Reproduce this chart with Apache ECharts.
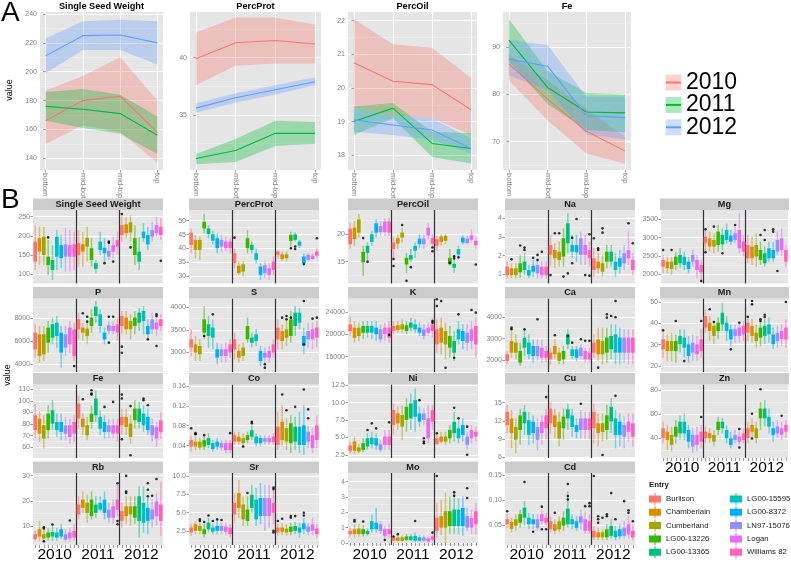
<!DOCTYPE html>
<html><head><meta charset="utf-8">
<script src="https://cdn.jsdelivr.net/npm/echarts@6/dist/echarts.min.js"></script>
<style>html,body{margin:0;padding:0;background:#fff}#c{width:791px;height:563px}</style>
</head><body><div id="c"></div>
<script>
// ---------- categories ----------
const entries = ['Burlison','Chamberlain','Cumberland','LG00-13226','LG00-13365','LG00-15595','LG00-8372','LN97-15076','Logan','Williams 82'];
const entryColors = ['#F8766D','#D89000','#A3A500','#39B600','#00BF7D','#00BFC4','#00B0F6','#9590FF','#E76BF3','#FF62BC'];
const yearLabels = ['2010','2011','2012'];
const yearColors = ['#F8766D','#00BA38','#619CFF'];
const positions = ['bottom','mid-bot','mid-top','top'];

// ---------- panel A: mean and ribbon per year (rows 2010, 2011, 2012) ----------
const sswMean = [[166,180,183,158],[176,174,171,156],[211,225,225.5,220]];
const sswLow  = [[150,163,158,137],[166,161,157,143],[199,215,215,205]];
const sswHigh = [[187,197,210,180],[186,188,184,169],[223,235,236,235]];
const protMean = [[39.9,41.3,41.5,41.2],[31.2,31.9,33.4,33.4],[35.6,36.5,37.2,37.9]];
const protLow  = [[37.6,39.3,39.5,39.5],[30.7,30.9,32.3,32.5],[35.2,36.1,36.8,37.6]];
const protHigh = [[42.2,43.5,43.5,42.9],[31.6,32.9,34.5,34.4],[36.0,36.9,37.6,38.3]];
const oilMean = [[20.75,20.2,20.1,19.35],[19.0,19.4,18.35,18.2],[19.05,18.9,18.75,18.2]];
const oilLow  = [[19.4,19.2,19.1,18.6],[18.6,19.1,17.95,17.75],[18.7,18.6,18.45,18.05]];
const oilHigh = [[22.05,21.3,21.2,20.3],[19.45,19.55,18.7,18.65],[19.4,19.2,19.1,18.5]];
const feMean = [[86.5,79,72.2,68],[91.5,81.5,76.3,76.1],[87.5,86,75.5,75.1]];
const feLow  = [[83,74.5,67.5,65.3],[87,78,72.5,72],[84,81,71.5,70.5]];
const feHigh = [[88.5,83,77,71],[96,85,80.3,80],[91.5,90.5,79.5,79.5]];
const aTickSSW = [140,160,180,200,220,240], aMinorSSW = [150,170,190,210,230];
const aTickProt = [35,40], aMinorProt = [32.5,37.5,42.5];
const aTickOil = [18,19,20,21,22], aMinorOil = [18.5,19.5,20.5,21.5];
const aTickFe = [70,80,90], aMinorFe = [65,75,85,95];

// ---------- panel B: boxes [low whisker, Q1, Q3, high whisker]; slots 0-9 = 2010, 10-19 = 2011, 20-29 = 2012 (entry order) ----------
const boxSSW = [[111,133,185,228],[124,159,194,224],[124,150,198,224],[98,124,146,189],[85,111,137,176],[111,146,198,215],[116,142,176,202],[107,146,178,220],[107,146,176,215],[111,146,178,211],
[120,149,181,215],[120,159,178,211],[133,172,195,224],[120,137,168,194],[103,114,129,137],[150,163,185,211],[133,155,169,194],[137,146,161,185],[142,159,176,198],[150,172,189,211],
[185,202,228,254],[194,207,230,250],[185,209,235,254],[124,150,194,228],[111,133,159,198],[185,194,211,233],[163,178,202,224],[185,198,215,237],[198,207,228,250],[189,202,224,246]];
const outSSW = [[3,196],[16,129],[17,185],[17,182],[18,133],[20,257],[22,170],[29,135]];

const boxProt = [[38.3,41.3,45.7,47.2],[36.5,39.5,43.1,44.9],[35.9,39.5,43.1,44.3],[45.4,47.2,49.6,52.4],[43.7,45.2,47.2,48.4],[41.3,42.8,45.1,46.3],[38.3,40.1,43.7,45.4],[38.9,40.7,43.1,44.9],[38.9,40.1,42.5,44.3],[38.3,40.1,42.5,43.7],
[32.9,34.7,38.3,40.1],[30.5,31.1,33.8,35.3],[29.9,31.7,34.3,35.3],[38.3,40.1,43.7,46.6],[38.3,39.5,41.3,42.5],[34.7,35.9,38.3,40.1],[28.7,30.5,33.5,34.7],[29.3,31.1,34,35.3],[28.7,30.5,32.9,34.7],[30.5,32.3,35.3,37.1],
[36.5,37.7,38.9,39.5],[35.3,36.2,37.9,38.9],[35.3,36.5,37.9,38.9],[40.7,42.7,44.9,46],[42.5,43.1,45.1,45.8],[40.1,41,42.5,43.1],[33.8,34.7,37.1,38.3],[35.3,35.9,37.7,38.3],[35.9,36.2,37.4,38.3],[36.5,37.4,38.9,40.1]];
const outProt = [[10,43.9],[23,40.1],[24,40.7],[24,39.8],[26,34.4],[29,43.7]];

const boxOil = [[17.3,18.2,21,22.1],[17.9,19.1,21.2,22.4],[19.4,20.3,22.7,23.7],[12.4,14.9,16.8,17.9],[15.1,16.6,17.9,18.5],[17.9,18.6,20,20.6],[19.4,20.3,22,22.7],[19.7,20.4,21.5,22.4],[19.7,20.4,22.3,22.9],[19.7,20.3,22.3,23],
[15.4,17.3,18.5,19.4],[17.3,18.3,19.3,20],[18.5,19.4,20.3,21.2],[13,14.5,15.7,16.6],[15,15.4,16.2,17.3],[15.7,17,17.9,18.5],[17.6,18.2,19.2,20],[17.3,18.2,19.2,20],[19.1,19.8,21.2,22.1],[17.6,18.3,19.3,20],
[17,17.9,19.1,19.7],[17.9,18.6,19.6,20],[18.2,18.8,19.7,20.1],[14.2,14.5,15.7,17.3],[13,13.9,14.6,15.4],[15.4,16.3,17.3,17.9],[18.2,18.5,19.4,19.8],[18.2,18.4,19.2,19.7],[18.5,19,19.8,20.9],[17.3,18,18.8,19.4]];
const outOil = [[3,19.3],[4,15.0],[10,15.5],[10,14.2],[12,21.7],[13,11.5],[14,14.0],[19,16.9],[19,17.6],[24,16.0],[24,15.6],[25,15.8],[23,14.8],[29,14.5]];

const boxNa = [[0.79,0.96,1.41,1.68],[0.79,0.96,1.32,1.59],[0.79,0.96,1.32,1.59],[0.82,1.11,1.59,2.04],[0.96,1.23,1.68,2.13],[0.79,0.93,1.23,1.5],[0.88,1.14,1.46,1.77],[0.79,1.05,1.5,1.86],[0.79,0.96,1.41,1.68],[0.79,0.96,1.41,1.68],
[1.41,2.04,2.57,3.11],[1.32,1.86,2.3,2.66],[1.41,1.77,2.21,2.75],[1.41,1.95,2.93,3.46],[2.13,2.66,3.73,4.27],[1.86,2.21,2.57,3.11],[1.68,2.18,2.57,3.11],[1.5,2.04,2.93,3.29],[1.5,2.04,2.57,3.11],[1.41,1.86,2.3,2.75],
[0.88,1.23,1.86,2.39],[1.05,1.32,1.68,2.13],[0.88,1.14,1.59,2.04],[1.32,1.68,2.21,2.57],[1.41,1.68,2.21,2.57],[0.88,1.23,1.68,2.13],[1.05,1.41,1.86,2.3],[1.23,1.59,2.13,2.57],[1.5,1.86,2.3,3.29],[0.96,1.23,1.77,2.13]];
const outNa = [[1,1.8],[3,2.54],[4,2.43],[4,2.3],[6,1.89],[7,2.04],[7,1.77],[8,2.21],[10,0.96],[11,3.2],[12,3.2],[13,0.88],[14,1.05],[15,2.96],[15,1.59],[16,3.96],[18,0.96],[19,0.93],[19,3.14],[20,2.93],[21,2.39],[21,2.3],[22,3.46],[22,3.23],[28,3.73],[29,2.66]];

const boxMg = [[2027,2209,2391,2527],[2027,2164,2345,2482],[1982,2145,2345,2482],[2118,2255,2482,2618],[2164,2300,2527,2709],[2118,2255,2482,2618],[2027,2145,2345,2482],[2209,2345,2527,2664],[1891,2118,2391,2527],[1845,2055,2255,2391],
[2618,2845,3027,3255],[2618,2755,2982,3164],[2573,2755,2936,3118],[2618,2800,3164,3345],[2664,2818,3073,3255],[2845,2936,3209,3391],[2800,2891,3055,3209],[2845,2936,3118,3300],[2573,2709,3209,3664],[2482,2618,2891,3073],
[2300,2436,2800,3073],[2255,2436,2755,3027],[2209,2482,2800,3118],[2255,2391,2664,2891],[2209,2300,2573,2755],[2345,2436,2709,2891],[2345,2436,2664,2891],[2527,2618,2936,3164],[2482,2664,2982,3255],[2209,2345,2664,2800]];
const outMg = [[0,2664],[2,2664],[9,1818],[10,3227],[10,2600],[12,3300],[14,2573],[17,3345],[23,3073],[24,3209],[24,2936],[26,3164],[26,3227],[27,2091]];

const boxP = [[4580,5304,6754,7478],[4145,4725,6609,7333],[4290,4870,6609,7333],[5014,5884,7188,7768],[5739,6319,7478,8058],[5449,6464,7623,8203],[3710,5014,6754,7333],[4725,5449,6609,7333],[5014,5739,7188,7768],[4290,4725,7043,7623],
[6174,7043,7913,8493],[6029,6754,7188,7623],[5739,6464,7101,7623],[6754,7333,8058,8783],[7623,8203,9014,9507],[6754,7333,8348,8783],[5739,6174,6754,7188],[6609,6899,7391,7768],[6609,6899,7333,7768],[6029,6754,7478,8058],
[6609,7333,8203,8638],[6609,7043,8058,8638],[6174,7043,7768,8348],[6609,7333,8058,8638],[6899,7623,8493,8928],[6609,7768,8638,9072],[6029,6609,7333,7913],[6609,7043,7913,8493],[6464,7043,7623,8203],[6899,7333,7913,8348]];
const outP = [[9,3855],[11,8435],[12,8140],[12,7710],[17,8140],[18,8140],[17,5884],[20,5536],[20,5009],[28,8348],[28,8203],[28,5590],[26,6174]];

const boxS = [[2919,3104,3289,3511],[2807,2993,3178,3363],[2807,2956,3141,3289],[3289,3437,3733,4030],[3104,3363,3622,3807],[3067,3326,3548,3733],[2733,2881,3067,3215],[2770,2919,3067,3178],[2770,2919,3067,3215],[2881,2993,3178,3289],
[2844,3067,3289,3437],[2770,2881,3030,3178],[2807,2919,3104,3215],[3215,3289,3585,3770],[3104,3215,3326,3437],[3141,3252,3400,3511],[2696,2807,3030,3141],[2733,2881,2993,3104],[2770,2881,3030,3141],[2881,2993,3178,3289],
[3067,3289,3548,3733],[3067,3252,3474,3622],[3141,3326,3511,3696],[3215,3363,3733,3919],[3363,3585,3881,4030],[3511,3659,3881,3993],[2956,3141,3363,3548],[3104,3289,3474,3659],[3067,3289,3511,3659],[3104,3326,3548,3696]];
const outS = [[3,3363],[5,3844],[17,2733],[17,2659],[21,3770],[22,3807],[22,3733],[23,3770],[26,4141],[28,3748],[26,3178],[29,3770]];

const boxK = [[19701,20597,21791,23284],[18507,19403,21194,22388],[18806,19701,21194,22090],[19104,20299,21493,22388],[19403,20299,21493,22388],[19104,20299,21493,22388],[18806,20000,21194,22388],[18507,19104,20896,21791],[18806,20000,21194,22090],[18507,19403,21194,22388],
[20000,20597,21493,22388],[20299,20776,21612,22388],[20299,20896,21791,22687],[20000,20597,21612,22388],[20597,21194,22090,22985],[20299,20896,21791,22687],[19701,20299,21194,22090],[19104,19701,20896,21791],[19701,20299,21194,22090],[19403,20597,21791,22985],
[16716,18209,20896,22687],[16418,18507,21194,22985],[15522,18209,20597,22090],[15821,17612,19701,21493],[15224,16716,18806,20597],[18209,19104,20896,22388],[17313,18806,20597,21791],[17015,18507,20299,21791],[17313,18806,20896,22388],[15821,18209,21493,22985]];
const outK = [[9,19900],[19,22388],[19,22090],[20,26269],[21,25970],[20,25075],[22,14030],[24,15821],[25,23582],[28,24358],[29,23881]];

const boxCa = [[1797,1953,2266,2422],[2109,2344,2891,3359],[2031,2344,2813,3203],[1719,1875,2422,2813],[2188,2578,3047,3438],[2031,2266,2813,3203],[1875,2188,2656,2969],[1953,2188,2656,2969],[1875,2109,2578,2969],[1875,2109,2422,2656],
[1797,2031,2344,2578],[2031,2266,2656,2969],[1797,1953,2344,2578],[1797,2031,2422,2656],[2500,2734,3203,3438],[2031,2188,2500,2656],[1953,2109,2500,2656],[2031,2188,2578,2734],[1875,2031,2422,2578],[1875,2031,2344,2578],
[2109,2344,2813,3203],[1953,2266,2969,3516],[1797,2266,2891,3516],[1875,2344,3047,3516],[2031,2500,3125,3672],[1797,2344,3203,3672],[1797,2344,3047,3516],[1875,2344,3047,3438],[1797,2344,3047,3438],[1797,2344,3047,3438]];
const outCa = [[1,3516],[1,3438],[4,3438],[7,3906],[11,3156],[14,3125],[15,2813],[17,2969],[18,2900],[19,2900],[23,4141],[24,4063],[23,3984],[25,4766],[25,4000],[21,1641]];

const boxMn = [[23.9,27.8,32.5,35.6],[22.3,27,31.7,34.8],[22.3,27,31.7,35.6],[21.6,27,31.7,34.8],[26.3,30.2,34.1,37.2],[23.9,28.6,33.3,37.2],[21.6,24.7,30.2,34.1],[22.3,26.3,30.9,34.8],[22.3,25.5,30.2,34.1],[23.9,27,32.5,37.2],
[35.6,38,43.4,46.6],[31.7,36.4,40.3,43.4],[30.2,34.1,38.8,41.1],[32.5,36.4,40.3,42.7],[36.4,39.5,45,49.7],[31.7,36.4,40.3,43.4],[29.4,32.5,37.2,39.5],[30.9,34.1,37.2,39.5],[30.9,34.1,38,41.1],[31.7,34.8,38.8,41.1],
[31.7,35.6,40.3,43.4],[30.9,34.1,38.8,41.9],[28.6,31.7,35.6,39.5],[29.4,33.3,38,41.1],[30.2,34.1,38.8,41.9],[30.9,34.8,39.5,42.7],[27.8,30.2,34.8,38],[28.6,31.7,35.6,38.8],[29.4,32.5,36.4,39.5],[28.6,32.5,38,41.9]];
const outMn = [[0,36.7],[3,41.1],[5,22.3],[9,41.1],[11,46.6],[12,40.6],[18,40.3],[16,27.8],[20,43.1],[21,50.5],[21,48.9],[23,41.9],[23,41.1],[24,44],[24,43],[29,50]];

const boxFe = [[67.5,74.7,87.6,97.6],[64.6,71.8,84.7,90.5],[58.9,67.5,79,87.6],[67.5,74.7,89,96.2],[74.7,80.4,91.9,100.5],[68.9,74.7,81.8,89],[66,73.2,81.8,89],[66,71.8,79,86.1],[63.2,68.9,79,84.7],[64.6,71.8,81.8,87.6],
[76.1,84.7,97.6,104.8],[70.3,77.5,84.7,89],[66,70.3,79,86.1],[76.1,81.8,89,96.2],[81.8,87.6,102,109.1],[70.3,76.1,86.1,91.9],[67.5,73.2,81.8,87.6],[67.5,73.2,79,84.7],[67.5,71.8,79,84.7],[64.6,71.8,79,84.7],
[70.3,79,86.1,93.3],[70.3,77.5,86.1,93.3],[63.2,68.9,80.4,87.6],[76.1,83.3,93.3,100.5],[76.1,81.8,93.3,99.1],[73.2,79,89,96.2],[70.3,74.7,86.1,93.3],[64.6,70.3,79,84.7],[60.3,67.5,77.5,81.8],[67.5,73.2,83.3,90.5]];
const outFe = [[11,101.4],[13,109.1],[13,106.3],[13,105.4],[16,94.8],[18,99.1],[20,105.4],[20,102],[20,66.9],[22,53.1],[22,95.5],[25,102],[25,100.5],[26,96.2]];

const boxCo = [[0.028,0.038,0.051,0.061],[0.031,0.038,0.048,0.058],[0.031,0.036,0.048,0.055],[0.031,0.038,0.051,0.058],[0.035,0.041,0.055,0.065],[0.028,0.033,0.045,0.051],[0.031,0.038,0.048,0.055],[0.029,0.036,0.045,0.051],[0.025,0.031,0.045,0.051],[0.025,0.031,0.045,0.051],
[0.041,0.048,0.061,0.068],[0.041,0.048,0.058,0.068],[0.038,0.045,0.055,0.065],[0.045,0.051,0.061,0.068],[0.051,0.058,0.071,0.081],[0.038,0.045,0.058,0.065],[0.038,0.045,0.055,0.061],[0.041,0.048,0.055,0.061],[0.041,0.047,0.055,0.061],[0.041,0.047,0.058,0.065],
[0.031,0.041,0.078,0.108],[0.038,0.051,0.088,0.121],[0.031,0.048,0.075,0.095],[0.025,0.045,0.085,0.101],[0.031,0.048,0.078,0.098],[0.025,0.041,0.078,0.108],[0.021,0.041,0.081,0.121],[0.035,0.048,0.068,0.081],[0.025,0.035,0.061,0.075],[0.035,0.051,0.081,0.101]];
const outCo = [[0,0.075],[1,0.065],[1,0.063],[3,0.061],[9,0.065],[12,0.038],[14,0.088],[14,0.085],[21,0.143],[22,0.111],[24,0.118],[26,0.153],[27,0.113],[27,0.095]];

const boxNi = [[2.74,3.07,3.83,4.31],[2.6,3.07,4.4,5.12],[2.74,2.98,3.55,4.02],[2.88,3.21,4.17,4.88],[3.21,3.69,4.88,5.6],[3.45,4.02,4.98,5.83],[3.21,3.83,4.88,5.6],[2.88,3.21,4.02,4.64],[3.21,3.93,5.12,6.07],[3.21,3.93,5.12,6.07],
[5.36,6.79,8.93,9.88],[6.07,7.02,8.45,9.4],[4.64,6.55,8.21,9.64],[5.83,7.5,9.4,10.6],[6.07,7.74,9.88,11.31],[5.83,7.98,10.36,12.02],[6.55,7.26,8.45,9.4],[6.79,7.5,8.45,9.16],[4.17,4.88,7.74,9.64],[6.07,7.26,8.93,9.64],
[3.93,4.02,4.88,5.6],[4.17,4.4,5.12,5.83],[3.93,4.4,5.12,5.83],[4.17,4.88,6.07,6.79],[4.4,5.6,7.26,8.69],[4.17,4.88,6.31,7.5],[4.4,5.36,6.79,7.74],[3.21,3.93,5.12,5.83],[4.17,4.88,6.07,6.79],[4.4,5.12,5.83,6.55]];
const outNi = [[4,6.07],[5,7.02],[6,6.3],[9,7.17],[16,10.36],[17,4.88],[17,4.4],[17,4.17],[20,5.6],[24,9.26],[25,7.74],[27,2.5],[27,6.55]];

const boxCu = [[10,11.3,13.5,14.6],[7.5,10,12.4,13.8],[6.7,8.9,11,12.4],[8.1,10.5,12.9,14],[9.7,11.6,13.5,14.6],[8.1,9.7,12.1,13.5],[8.3,10,11.9,12.9],[7.2,8.9,11,12.4],[8.1,10,11.9,12.9],[8.9,10.8,12.9,14],
[10,11.6,14,15.1],[9.1,11,12.9,14],[7.8,9.1,11.9,13.5],[8.9,10.8,12.7,14],[10.5,12.4,13.9,14.8],[9.4,11,12.9,14],[9.1,10.2,11.3,12.4],[9.1,10.5,12.4,13.8],[9.1,10.5,12.4,13.5],[8.9,10.5,12.4,13.5],
[8.3,10.8,13.5,14.8],[7.8,10,11.6,13.2],[8.6,10.2,11.6,13.2],[8.9,10.5,12.9,14.6],[10,11.9,14.3,15.7],[7.5,9.7,12.4,13.8],[7.8,9.7,11.9,13.2],[7.5,9.4,11.3,12.7],[8.6,10.2,11.9,13.2],[7.8,9.4,11.6,13.2]];
const outCu = [[9,15.9],[17,14.8],[22,6.4],[25,16.1]];

const boxZn = [[35.9,40,48.3,53.8],[30.3,38.6,45.5,51],[29,34.5,42.8,49.7],[35.9,41.4,49.7,55.2],[38.6,44.1,53.8,59.3],[38.6,44.1,53.8,60.7],[31.7,37.2,46.9,51],[27.6,33.1,42.8,48.3],[29,34.5,42.8,49.7],[31.7,37.2,45.5,51],
[35.9,40,45.5,49.7],[35.9,40,44.1,48.3],[33.1,37.2,42.8,46.9],[42.8,46.9,53.8,57.9],[44.1,48.3,53.8,56.6],[35.9,40,46.9,51],[31.7,34.5,40,45.5],[35.9,38.6,42.8,46.9],[34.5,37.2,41.4,45.5],[35.9,38.6,44.1,48.3],
[35.9,40,48.3,53.8],[40,45.5,51.1,56.6],[35.9,40,48.3,53.8],[46.9,56.6,64.8,70.3],[49.7,56.6,64.8,71.7],[44.1,49.7,57.9,64.8],[37.2,42.8,48.3,53.8],[40,44.1,49.7,55.2],[38.6,42.8,48.3,53.8],[40,45.5,51.1,55.2]];
const outZn = [[9,57.7],[18,47.8],[18,32.3],[21,60.4],[21,39.8],[23,80.8],[28,58.8]];

const boxRb = [[4.1,4.8,6.7,8],[4.1,5.8,8.7,12],[3.5,5,6.7,8.7],[4.1,5.4,7.4,9.3],[4.1,5.8,7.6,10],[4.1,5.4,7.4,9.3],[4.8,5.8,8.7,10.7],[3.5,4.5,6.7,8.7],[3.7,5,7.4,9.3],[4.1,5.4,8,10.7],
[12.6,14.6,18.5,21.8],[15.2,17.2,20.5,23.7],[11.3,15.2,19.2,22.5],[12.6,13.9,20.5,23.7],[13.3,15.2,18.5,21.8],[15.9,16.5,19.2,21.8],[12.6,15.2,20.5,23.7],[11.3,13.3,16.5,19.2],[10.7,13.3,17.8,20.5],[13.9,16.5,20.5,26.3],
[9.3,12,15.9,19.2],[10.7,13.9,17.8,21.8],[10,14.6,17.8,21.8],[10.7,13.3,17.8,21.8],[5.4,12,21.8,25.7],[7.4,11.3,19.2,25.7],[6.7,12,17.2,21.8],[9.3,12.6,16.5,20.5],[10,13.9,19.8,23.1],[6.1,12,18.5,27.6]];
const outRb = [[2,9.5],[2,9.0],[2,3.9],[4,10.6],[8,12.2],[19,27],[19,12],[19,10.7],[21,29.9],[21,23.7],[21,23.1],[26,27],[26,24.4],[26,21.8],[27,22],[28,28.7]];

const boxSr = [[1.83,2.28,2.95,3.4],[2.05,2.5,3.4,3.85],[2.05,2.5,3.17,3.62],[1.6,2.05,2.72,3.4],[2.28,2.72,3.62,4.3],[2.05,2.37,2.95,3.4],[2.05,2.5,3.17,3.85],[2.05,2.5,3.17,3.62],[1.92,2.37,3.08,3.62],[1.6,2.05,2.95,3.4],
[3.62,4.75,6.32,7.66],[4.3,5.64,7.66,9.46],[3.17,4.07,6.09,7.22],[3.17,3.85,5.42,7.22],[4.97,5.64,7.44,8.79],[3.17,4.07,6.77,8.34],[3.4,4.52,6.99,9.01],[2.5,4.52,6.99,8.79],[2.95,4.52,6.99,8.79],[3.4,4.97,6.32,8.11],
[1.83,2.28,2.95,3.4],[1.92,2.37,2.95,3.53],[1.83,2.28,2.82,3.4],[1.92,2.37,3.08,3.62],[2.05,2.5,3.17,3.71],[1.6,2.28,2.95,3.62],[2.05,2.72,3.53,4.3],[1.92,2.37,3.08,3.62],[1.92,2.5,3.4,4.3],[1.6,2.05,2.82,3.4]];
const outSr = [[2,4.07],[2,3.85],[3,3.71],[4,4.61],[5,3.85],[6,4.07],[7,3.98],[13,7.66],[19,8.43],[19,8.2],[19,2.5],[19,2.28],[20,3.85],[21,4.16],[23,4.52],[23,4.3],[24,4.52],[26,4.97],[26,4.61]];

const boxMo = [[0.43,0.58,0.79,1.0],[0.36,0.58,0.9,1.22],[0.43,0.58,0.94,1.22],[0.43,0.58,0.9,1.15],[0.47,0.58,0.79,0.94],[0.68,0.9,1.43,1.86],[0.68,0.9,1.32,2.29],[0.58,0.79,1.22,1.43],[0.26,0.47,0.9,1.11],[0.36,0.58,0.9,1.22],
[0.09,0.15,0.36,0.51],[0.09,0.15,0.36,0.51],[0.09,0.15,0.36,0.51],[0.12,0.21,0.43,0.58],[0.12,0.21,0.43,0.58],[0.04,0.15,0.47,0.68],[0.09,0.15,0.36,0.51],[0.09,0.15,0.36,0.51],[0,0.09,0.3,0.43],[0.09,0.21,0.43,0.58],
[0.36,0.79,1.64,2.61],[0.51,1.0,1.75,2.82],[-0.06,1.0,2.07,3.29],[0.58,1.11,2.07,3.03],[0.58,1.11,2.18,3.4],[0.58,1.11,2.18,2.93],[0.47,1.11,2.29,3.03],[0.79,1.0,1.75,2.29],[0.58,1.0,1.64,2.18],[0.58,1.22,2.07,2.61]];
const outMo = [[1,1.5],[1,1.4],[3,1.4],[8,0.2],[10,0.43],[11,0.58],[15,1.43],[19,0.68],[20,4.36],[24,3.3],[24,3.08],[27,3.57],[27,2.93]];

const boxCd = [[0.045,0.052,0.062,0.072],[0.036,0.043,0.057,0.065],[0.039,0.049,0.062,0.072],[0.045,0.055,0.072,0.081],[0.049,0.065,0.085,0.098],[0.042,0.052,0.065,0.075],[0.042,0.052,0.062,0.072],[0.039,0.045,0.062,0.072],[0.052,0.058,0.072,0.081],[0.049,0.055,0.065,0.075],
[0.036,0.042,0.058,0.068],[0.033,0.039,0.052,0.062],[0.036,0.042,0.058,0.068],[0.039,0.049,0.065,0.078],[0.045,0.052,0.083,0.118],[0.042,0.052,0.062,0.072],[0.039,0.045,0.058,0.068],[0.042,0.055,0.068,0.081],[0.033,0.039,0.062,0.078],[0.033,0.039,0.058,0.072],
[0.020,0.026,0.039,0.049],[0.020,0.026,0.036,0.045],[0.020,0.026,0.036,0.042],[0.020,0.026,0.042,0.052],[0.023,0.029,0.049,0.062],[0.020,0.026,0.039,0.049],[0.022,0.028,0.042,0.052],[0.023,0.029,0.045,0.058],[0.023,0.032,0.052,0.068],[0.020,0.026,0.039,0.052]];
const outCd = [[0,0.078],[4,0.136],[6,0.037],[8,0.087],[8,0.042],[9,0.042],[11,0.075],[14,0.132],[14,0.108],[14,0.101],[18,0.088],[19,0.094],[19,0.088],[20,0.148],[21,0.068],[21,0.062],[21,0.055],[22,0.065],[23,0.072],[23,0.068],[24,0.114],[25,0.062],[27,0.098],[28,0.080],[28,0.075],[29,0.058]];

// tick labels (major) and minor gridlines for panel B
const tickSSW=[100,150,200,250], minorSSW=[125,175,225];
const tickProt=[30,35,40,45,50], minorProt=[27.5,32.5,37.5,42.5,47.5,52.5];
const tickOil=[15,20], minorOil=[12.5,17.5,22.5];
const tickNa=[1,2,3,4], minorNa=[1.5,2.5,3.5];
const tickMg=[2000,2500,3000,3500], minorMg=[2250,2750,3250];
const tickP=[4000,6000,8000], minorP=[5000,7000,9000];
const tickS=[3000,3500,4000], minorS=[2750,3250,3750];
const tickK=[16000,20000,24000], minorK=[14000,18000,22000,26000];
const tickCa=[2000,3000,4000], minorCa=[1500,2500,3500,4500];
const tickMn=[20,30,40,50], minorMn=[25,35,45];
const tickFe=[60,70,80,90,100,110], minorFe=[55,65,75,85,95,105];
const tickCo=[0.04,0.08,0.12,0.16], minorCo=[0.02,0.06,0.10,0.14];
const tickNi=[2.5,5,7.5,10,12.5], minorNi=[3.75,6.25,8.75,11.25];
const tickCu=[6,9,12,15], minorCu=[7.5,10.5,13.5,16.5];
const tickZn=[40,60,80], minorZn=[30,50,70];
const tickRb=[10,20,30], minorRb=[5,15,25];
const tickSr=[2.5,5,7.5,10], minorSr=[1.25,3.75,6.25,8.75];
const tickMo=[0,1,2,3,4], minorMo=[0.5,1.5,2.5,3.5];
const tickCd=[0.05,0.10,0.15], minorCd=[0.025,0.075,0.125];

// ---------- layout / styles ----------
const FONT = "'Liberation Sans', Arial, Helvetica, sans-serif";
const TXT = '#7F7F7F';
function rgba(hex, a){const n=parseInt(hex.slice(1),16);return 'rgba('+(n>>16)+','+((n>>8)&255)+','+(n&255)+','+a+')';}

const grids=[], xAxis=[], yAxis=[], series=[];
function addGrid(left, top, width, height){grids.push({left, top, width, height, show:true, backgroundColor:'#E5E5E5', borderWidth:0}); return grids.length-1;}
function addY(gi, min, max, ticks, minor, dec, fs){
  yAxis.push({gridIndex:gi, type:'value', position:'right', min, max, axisLine:{show:false}, axisTick:{show:false, customValues:minor}, axisLabel:{show:false}, splitLine:{show:true, lineStyle:{color:'#F2F2F2', width:0.6}}});
  yAxis.push({gridIndex:gi, type:'value', position:'left', min, max, axisLine:{show:false},
    axisTick:{show:true, length:2.5, customValues:ticks, lineStyle:{color:TXT, width:0.8}},
    axisLabel:{customValues:ticks, formatter:v=>v.toFixed(dec), fontSize:fs, color:TXT, margin:3, fontFamily:FONT},
    splitLine:{show:true, lineStyle:{color:'#FFFFFF', width:1}}});
  return yAxis.length-1;
}

// ---------- panel A ----------
function renderRibbon(params, api){
  const pts=[];
  for(let k=0;k<4;k++) pts.push(api.coord([k, api.value(1+k)]));
  for(let k=3;k>=0;k--) pts.push(api.coord([k, api.value(5+k)]));
  return {type:'polygon', shape:{points:pts}, style:{fill:api.visual('color'), opacity:0.32}};
}
const aPanels = [
  {name:'Single Seed Weight', mean:sswMean, low:sswLow, high:sswHigh, ticks:aTickSSW, minor:aMinorSSW, min:131.9, max:241.4, left:40, width:123},
  {name:'PercProt', mean:protMean, low:protLow, high:protHigh, ticks:aTickProt, minor:aMinorProt, min:30.2, max:43.99, left:190, width:131},
  {name:'PercOil', mean:oilMean, low:oilLow, high:oilHigh, ticks:aTickOil, minor:aMinorOil, min:17.56, max:22.26, left:348, width:129},
  {name:'Fe', mean:feMean, low:feLow, high:feHigh, ticks:aTickFe, minor:aMinorFe, min:64.0, max:97.48, left:503, width:128}
];
aPanels.forEach(p=>{
  const gi = addGrid(p.left, 12, p.width, 158);
  xAxis.push({gridIndex:gi, type:'value', min:-0.15, max:3.15, axisLine:{show:false},
    axisTick:{show:true, length:2.5, customValues:[0,1,2,3], lineStyle:{color:TXT, width:0.8}},
    axisLabel:{customValues:[0,1,2,3], formatter:v=>positions[Math.round(v)], rotate:-90, fontSize:7.6, color:TXT, margin:3, fontFamily:FONT},
    splitLine:{show:true, lineStyle:{color:'#FFFFFF', width:1}}});
  const xi = xAxis.length-1;
  xAxis.push({gridIndex:gi, type:'value', position:'top', min:-0.15, max:3.15, axisLine:{show:false}, axisTick:{show:false}, axisLabel:{show:false}, splitLine:{show:false},
    name:p.name, nameLocation:'middle', nameGap:1, nameTextStyle:{fontSize:9.2, fontWeight:'bold', color:'#000', fontFamily:FONT}});
  const yi = addY(gi, p.min, p.max, p.ticks, p.minor, 0, 7);
  yearLabels.forEach((yl,y)=>{
    series.push({type:'custom', name:yl+' band', xAxisIndex:xi, yAxisIndex:yi, itemStyle:{color:yearColors[y]}, renderItem:renderRibbon,
      data:[[0].concat(p.low[y], p.high[y])], silent:true, animation:false, z:2});
  });
  yearLabels.forEach((yl,y)=>{
    series.push({type:'line', name:yl, xAxisIndex:xi, yAxisIndex:yi, data:p.mean[y].map((v,k)=>[k,v]), showSymbol:false, symbol:'rect',
      lineStyle:{width:1.1, color:yearColors[y]}, itemStyle:{color:yearColors[y]}, silent:true, animation:false, z:3});
  });
});

// ---------- panel B ----------
function renderBox(params, api){
  const x = api.value(0);
  const lo = api.coord([x, api.value(1)]), q1 = api.coord([x, api.value(2)]), q3 = api.coord([x, api.value(3)]), hi = api.coord([x, api.value(4)]);
  const w = api.size([0.84, 0])[0];
  const c = api.visual('color');
  return {type:'group', children:[
    {type:'line', shape:{x1:lo[0], y1:lo[1], x2:hi[0], y2:hi[1]}, style:{stroke:c, lineWidth:1.5, opacity:0.5}},
    {type:'rect', shape:{x:q3[0]-w/2, y:q3[1], width:w, height:q1[1]-q3[1]}, style:{fill:c}}
  ]};
}
const colL=[33,189,348,505,661], colW=[130,130,130,130,129];
const rowT=[210,298.5,384.5,473], rowH=73.5;
const bPanels = [
  {name:'Single Seed Weight', box:boxSSW, out:outSSW, min:76.0, max:267.4, ticks:tickSSW, minor:minorSSW, dec:0, r:0, c:0},
  {name:'PercProt', box:boxProt, out:outProt, min:27.4, max:53.85, ticks:tickProt, minor:minorProt, dec:0, r:0, c:1},
  {name:'PercOil', box:boxOil, out:outOil, min:11.02, max:24.43, ticks:tickOil, minor:minorOil, dec:0, r:0, c:2},
  {name:'Na', box:boxNa, out:outNa, min:0.51, max:4.44, ticks:tickNa, minor:minorNa, dec:0, r:0, c:3},
  {name:'Mg', box:boxMg, out:outMg, min:1749, max:3754, ticks:tickMg, minor:minorMg, dec:0, r:0, c:4},
  {name:'P', box:boxP, out:outP, min:3330, max:9722, ticks:tickP, minor:minorP, dec:0, r:1, c:0},
  {name:'S', box:boxS, out:outS, min:2562, max:4196, ticks:tickS, minor:minorS, dec:0, r:1, c:1},
  {name:'K', box:boxK, out:outK, min:13262, max:26416, ticks:tickK, minor:minorK, dec:0, r:1, c:2},
  {name:'Ca', box:boxCa, out:outCa, min:1438, max:4880, ticks:tickCa, minor:minorCa, dec:0, r:1, c:3},
  {name:'Mn', box:boxMn, out:outMn, min:17.19, max:51.64, ticks:tickMn, minor:minorMn, dec:0, r:1, c:4},
  {name:'Fe', box:boxFe, out:outFe, min:50.75, max:114.1, ticks:tickFe, minor:minorFe, dec:0, r:2, c:0},
  {name:'Co', box:boxCo, out:outCo, min:0.015, max:0.163, ticks:tickCo, minor:minorCo, dec:2, r:2, c:1},
  {name:'Ni', box:boxNi, out:outNi, min:2.04, max:12.61, ticks:tickNi, minor:minorNi, dec:1, r:2, c:2},
  {name:'Cu', box:boxCu, out:outCu, min:5.92, max:17.96, ticks:tickCu, minor:minorCu, dec:0, r:2, c:3},
  {name:'Zn', box:boxZn, out:outZn, min:23.6, max:84.8, ticks:tickZn, minor:minorZn, dec:0, r:2, c:4, showX:true},
  {name:'Rb', box:boxRb, out:outRb, min:2.43, max:31.06, ticks:tickRb, minor:minorRb, dec:0, r:3, c:0, showX:true},
  {name:'Sr', box:boxSr, out:outSr, min:0.575, max:10.4, ticks:tickSr, minor:minorSr, dec:1, r:3, c:1, showX:true},
  {name:'Mo', box:boxMo, out:outMo, min:-0.128, max:4.56, ticks:tickMo, minor:minorMo, dec:0, r:3, c:2, showX:true},
  {name:'Cd', box:boxCd, out:outCd, min:0.0108, max:0.1539, ticks:tickCd, minor:minorCd, dec:2, r:3, c:3, showX:true}
];
const slotTicks = []; for(let i=0;i<30;i++) slotTicks.push(i+0.5);
bPanels.forEach(p=>{
  const w = colW[p.c];
  const gi = addGrid(colL[p.c], rowT[p.r], w, rowH);
  const showX = !!p.showX;
  xAxis.push({gridIndex:gi, type:'value', min:0, max:30, axisLine:{show:false}, splitLine:{show:false},
    axisTick:{show:showX, length:3, customValues:slotTicks, lineStyle:{color:TXT, width:0.8}},
    axisLabel:{show:showX, customValues:[5,15,25], formatter:v=>yearLabels[Math.round((v-5)/10)], fontSize:15.5, color:'#000', margin:2, fontFamily:FONT}});
  const xi = xAxis.length-1;
  xAxis.push({gridIndex:gi, type:'value', position:'top', min:0, max:30, axisLine:{show:false},
    axisTick:{show:false, customValues:[10,20]}, axisLabel:{show:false},
    splitLine:{show:true, lineStyle:{color:'#333333', width:1.2}},
    name:'{s|'+p.name+'}', nameLocation:'middle', nameGap:0,
    nameTextStyle:{rich:{s:{fontSize:9.2, fontWeight:'bold', color:'#1A1A1A', fontFamily:FONT, backgroundColor:'#CCCCCC', width:w, height:11.5, lineHeight:11.5, align:'center'}}}});
  const yi = addY(gi, p.min, p.max, p.ticks, p.minor, p.dec, 7);
  entries.forEach((en,e)=>{
    series.push({type:'custom', name:en, xAxisIndex:xi, yAxisIndex:yi, itemStyle:{color:entryColors[e]}, renderItem:renderBox,
      data:yearLabels.map((_,y)=>{const s=y*10+e, b=p.box[s]; return [s+0.5, b[0], b[1], b[2], b[3]];}),
      silent:true, animation:false, z:2});
  });
  series.push({type:'scatter', xAxisIndex:xi, yAxisIndex:yi, data:p.out.map(o=>[o[0]+0.5, o[1]]), symbolSize:2.6,
    itemStyle:{color:'#000'}, silent:true, animation:false, z:3});
});

const entryIcon = 'path://M5.5,0h1v12h-1zM0,2.5h12v7H0z';
const option = {
  backgroundColor:'#FFFFFF',
  animation:false,
  textStyle:{fontFamily:FONT},
  grid:grids, xAxis, yAxis, series,
  legend:[
    {data:yearLabels.map((n,i)=>({name:n, itemStyle:{color:rgba(yearColors[i],0.32), borderWidth:0}})), orient:'vertical', left:665, top:71, padding:0, itemGap:-0.6,
     itemWidth:15, itemHeight:20, selectedMode:false, textStyle:{fontSize:23, lineHeight:20, color:'#000', fontFamily:FONT}},
    {data:entries.slice(0,5), orient:'vertical', left:649, top:493, padding:0, itemGap:1.3, itemWidth:12, itemHeight:12, icon:entryIcon,
     selectedMode:false, textStyle:{fontSize:7.8, lineHeight:12, color:'#1A1A1A', fontFamily:FONT}},
    {data:entries.slice(5), orient:'vertical', left:730, top:493, padding:0, itemGap:1.3, itemWidth:12, itemHeight:12, icon:entryIcon,
     selectedMode:false, textStyle:{fontSize:7.8, lineHeight:12, color:'#1A1A1A', fontFamily:FONT}}
  ],
  title:[
    {text:'Entry', left:649, top:481, padding:0, textStyle:{fontSize:7.8, fontWeight:'bold', color:'#1A1A1A', fontFamily:FONT}}
  ],
  graphic:[
    {type:'text', x:1, y:13, style:{text:'A', fontSize:28, fill:'#000', textVerticalAlign:'middle', fontFamily:FONT}},
    {type:'text', x:1, y:200, style:{text:'B', fontSize:28, fill:'#000', textVerticalAlign:'middle', fontFamily:FONT}},
    {type:'text', x:10, y:90, rotation:Math.PI/2, style:{text:'value', fontSize:9, fill:'#000', textAlign:'center', textVerticalAlign:'middle', fontFamily:FONT}},
    {type:'text', x:8, y:375, rotation:Math.PI/2, style:{text:'value', fontSize:9, fill:'#000', textAlign:'center', textVerticalAlign:'middle', fontFamily:FONT}}
  ]
};
const chart = echarts.init(document.getElementById('c'), null, {renderer:'canvas', width:791, height:563});
chart.setOption(option);
</script></body></html>
